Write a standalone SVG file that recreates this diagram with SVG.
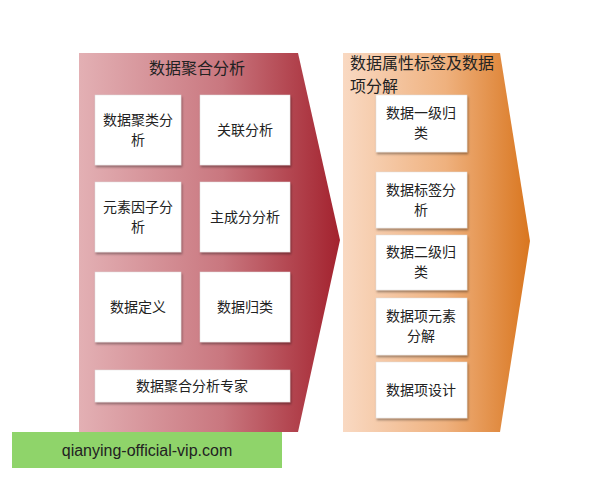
<svg xmlns="http://www.w3.org/2000/svg" width="600" height="480" viewBox="0 0 600 480">
<defs>
<linearGradient id="gr" x1="0" x2="1" y1="0" y2="0"><stop offset="0" stop-color="#e3b0b4"/><stop offset="0.55" stop-color="#c9777f"/><stop offset="1" stop-color="#a3222e"/></linearGradient>
<linearGradient id="go" x1="0" x2="1" y1="0" y2="0"><stop offset="0" stop-color="#f9d9c2"/><stop offset="0.55" stop-color="#efb17e"/><stop offset="1" stop-color="#d9761f"/></linearGradient>
<filter id="sh" x="-10%" y="-10%" width="130%" height="130%"><feDropShadow dx="1" dy="2" stdDeviation="1.2" flood-opacity="0.35"/></filter>
</defs>
<style>
text{font-family:"Noto Sans CJK SC","Liberation Sans",sans-serif;font-size:14px;fill:#222;text-anchor:middle}
.b{fill:#fff;stroke:#ddd;stroke-width:0.5;filter:url(#sh)}
.t{font-size:16px}
</style>
<rect width="600" height="480" fill="#fff"/>
<g id="stage1">
<polygon points="79,53 298,53 340,240 298,432 79,432" fill="url(#gr)"/>
<text class="t" x="197" y="74">数据聚合分析</text>
</g>
<g id="stage2">
<polygon points="343,53 500,53 530,241 500,432 343,432" fill="url(#go)"/>
<text class="t" x="422" y="69">数据属性标签及数据</text>
<text class="t" x="350" y="92" style="text-anchor:start">项分解</text>
</g>
<g id="n1"><rect class="b" x="95" y="95" width="86" height="70"/><text x="138" y="125">数据聚类分</text><text x="138" y="145">析</text></g>
<g id="n2"><rect class="b" x="200" y="95" width="90" height="70"/><text x="245" y="135">关联分析</text></g>
<g id="n3"><rect class="b" x="95" y="182" width="86" height="70"/><text x="138" y="212">元素因子分</text><text x="138" y="232">析</text></g>
<g id="n4"><rect class="b" x="200" y="182" width="90" height="70"/><text x="245" y="222">主成分分析</text></g>
<g id="n5"><rect class="b" x="95" y="272" width="86" height="70"/><text x="138" y="312">数据定义</text></g>
<g id="n6"><rect class="b" x="200" y="272" width="90" height="70"/><text x="245" y="312">数据归类</text></g>
<g id="n7"><rect class="b" x="95" y="370" width="195" height="32"/><text x="192" y="391">数据聚合分析专家</text></g>
<g id="r1"><rect class="b" x="376" y="95" width="91" height="57"/><text x="421" y="118">数据一级归</text><text x="421" y="138">类</text></g>
<g id="r2"><rect class="b" x="376" y="172" width="91" height="56"/><text x="421" y="195">数据标签分</text><text x="421" y="215">析</text></g>
<g id="r3"><rect class="b" x="376" y="235" width="91" height="55"/><text x="421" y="257">数据二级归</text><text x="421" y="277">类</text></g>
<g id="r4"><rect class="b" x="376" y="298" width="91" height="57"/><text x="421" y="321">数据项元素</text><text x="421" y="341">分解</text></g>
<g id="r5"><rect class="b" x="376" y="362" width="91" height="56"/><text x="421" y="395">数据项设计</text></g>
<g id="connectors"/>
<g id="watermark"><rect x="12" y="432" width="270" height="36" fill="#8fd46a"/><text x="147" y="456" style="font-family:'Liberation Sans',sans-serif;font-size:16px">qianying-official-vip.com</text></g>
</svg>
